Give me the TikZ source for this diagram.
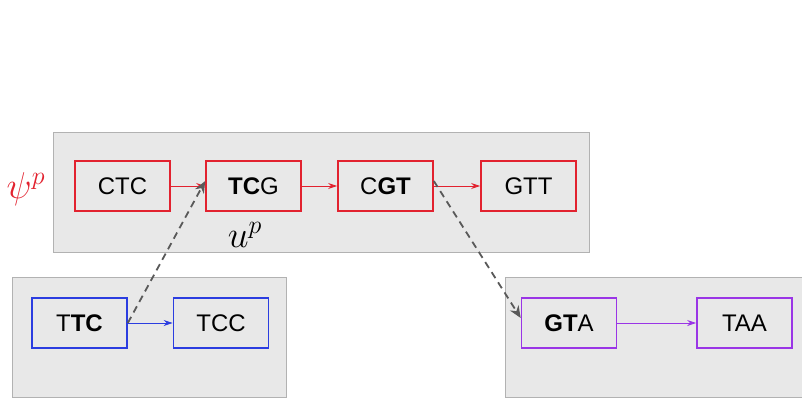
\documentclass[tikz,border=0pt]{standalone}
\usepackage{graphicx}
\usepackage{fontspec}
\setmainfont{Liberation Sans}
\usetikzlibrary{arrows.meta}
\definecolor{seqred}{HTML}{E2222F}
\definecolor{seqblue}{HTML}{2B3DE0}
\definecolor{seqpurple}{HTML}{9A35E6}
\definecolor{panelgray}{HTML}{E8E8E8}
\newcommand{\bigmath}[1]{\scalebox{1.5}{$#1$}}
\begin{document}
\begin{tikzpicture}[x=1pt,y=-1pt,font=\fontsize{24}{28}\selectfont,
  panel/.style={fill=panelgray,draw=black!30,line width=0.8pt},
  kmer/.style={draw=#1,line width=1.6pt,minimum width=95pt,minimum height=50pt,inner sep=0pt},
  link/.style={draw=#1,line width=0.8pt,-{Stealth[length=9pt,width=6pt]}},
  jump/.style={draw=black!65,line width=1.8pt,dash pattern=on 7pt off 5pt,-{Stealth[length=12pt,width=10pt]}}]
\useasboundingbox (0,0) rectangle (802,398);

% background panels
\draw[panel] (53,132) rectangle (589,252);
\draw[panel] (12,277) rectangle (286,397);
\draw[panel] (505,277) rectangle (802,397);

% top path
\node[kmer=seqred] (CTC) at (122.5,186) {CTC};
\node[kmer=seqred] (TCG) at (253.5,186) {\textbf{TC}G};
\node[kmer=seqred] (CGT) at (385.5,186) {C\textbf{GT}};
\node[kmer=seqred] (GTT) at (528.5,186) {GTT};
\node[text=seqred] (psi) at (26,189) {\bigmath{\psi^p}};
\node (up) at (245,235) {\bigmath{u^p}};

% lower left path
\node[kmer=seqblue] (TTC) at (79.5,323) {T\textbf{TC}};
\node[kmer=seqblue] (TCC) at (221,323) {TCC};

% lower right path
\node[kmer=seqpurple] (GTA) at (569,323) {\textbf{GT}A};
\node[kmer=seqpurple] (TAA) at (744.5,323) {TAA};

\draw[link=seqred] (CTC) -- (TCG);
\draw[link=seqred] (TCG) -- (CGT);
\draw[link=seqred] (CGT) -- (GTT);
\draw[link=seqblue] (TTC) -- (TCC);
\draw[link=seqpurple] (GTA) -- (TAA);

% jumps between paths
\draw[jump] (TTC.east) -- ([yshift=5pt]TCG.west);
\draw[jump] ([yshift=5pt]CGT.east) -- ([yshift=5pt]GTA.west);

\end{tikzpicture}
\end{document}
